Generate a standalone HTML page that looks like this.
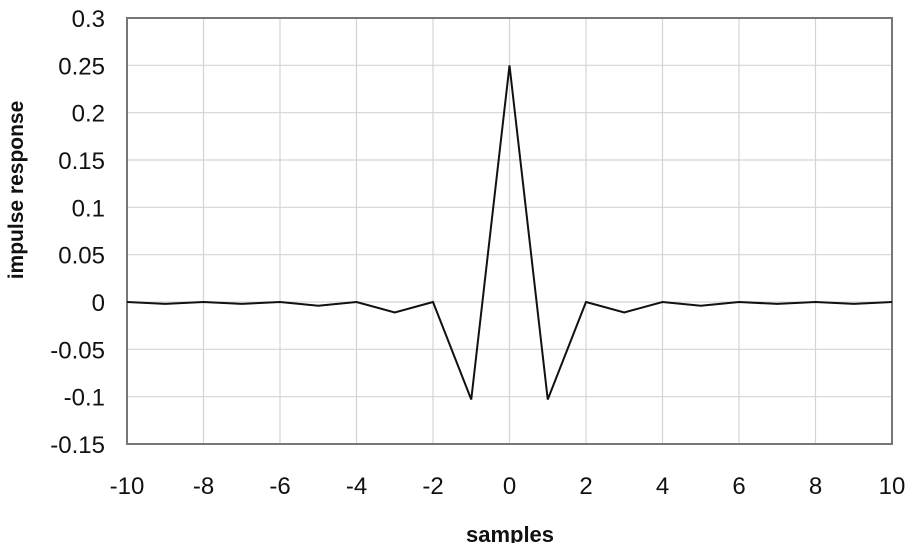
<!DOCTYPE html>
<html><head><meta charset="utf-8"><style>
body{margin:0;background:#fff;width:912px;height:543px;overflow:hidden}
svg{display:block;font-family:"Liberation Sans",Arial,sans-serif}
</style></head><body>
<svg id="chart" width="912" height="543" viewBox="0 0 912 543"></svg>
<script>
const xValues=[-10,-9,-8,-7,-6,-5,-4,-3,-2,-1,0,1,2,3,4,5,6,7,8,9,10];
const yValues=[0,-0.002,0,-0.002,0,-0.004,0,-0.011,0,-0.103,0.25,-0.103,0,-0.011,0,-0.004,0,-0.002,0,-0.002,0];
const xTicks=[-10,-8,-6,-4,-2,0,2,4,6,8,10];
const yTicks=[0.3,0.25,0.2,0.15,0.1,0.05,0,-0.05,-0.1,-0.15];
const yTickLabels=["0.3","0.25","0.2","0.15","0.1","0.05","0","-0.05","-0.1","-0.15"];
const L=127,R=892,T=18,B=444;
const sx=v=>L+(v+10)/20*(R-L);
const sy=v=>T+(0.3-v)/0.45*(B-T);
const svg=document.getElementById('chart');
const NS='http://www.w3.org/2000/svg';
function mk(t,a,txt){const e=document.createElementNS(NS,t);for(const k in a)e.setAttribute(k,a[k]);if(txt!==undefined)e.textContent=txt;svg.appendChild(e);return e;}
xTicks.forEach((v,i)=>{
 if(i>0&&i<xTicks.length-1){const g=mk('line',{x1:sx(v),x2:sx(v),y1:T,y2:B,stroke:'#d4d4d4','stroke-width':1.2});
 
 }
 const t=mk('text',{x:sx(v),y:494,'text-anchor':'middle','font-size':24,fill:'#111'},String(v));
 
 
});
yTicks.forEach((v,i)=>{
 if(i>0&&i<yTicks.length-1){const g=mk('line',{x1:L,x2:R,y1:sy(v),y2:sy(v),stroke:'#d4d4d4','stroke-width':1.2});
 
 }
 const t=mk('text',{x:105,y:sy(v)+9,'text-anchor':'end','font-size':24,fill:'#111'},yTickLabels[i]);
 
 
});
const f=mk('rect',{x:L,y:T,width:R-L,height:B-T,fill:'none',stroke:'#777','stroke-width':2});


const pts=xValues.map((x,i)=>sx(x)+','+sy(yValues[i])).join(' ');
const pl=mk('polyline',{points:pts,fill:'none',stroke:'#111','stroke-width':2,'stroke-linejoin':'miter'});


const xt=mk('text',{x:510,y:542,'text-anchor':'middle','font-size':22,'font-weight':'bold',fill:'#111'},'samples');


const yt=mk('text',{x:0,y:0,'text-anchor':'middle','font-size':21,'font-weight':'bold',fill:'#111',transform:'translate(23,190) rotate(-90)'},'impulse response');


</script>
</body></html>
